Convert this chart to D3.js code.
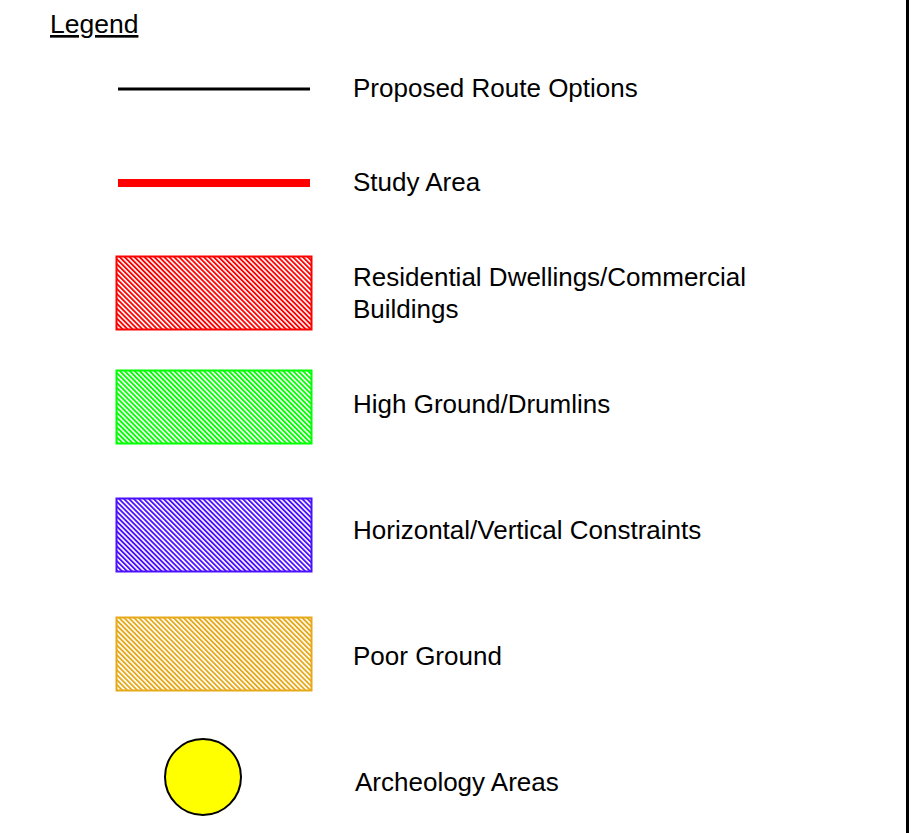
<!DOCTYPE html>
<html>
<head>
<meta charset="utf-8">
<script src="https://cdn.jsdelivr.net/npm/d3@7"></script>
<style>
  body { margin: 0; background: #fff; }
  text { font-family: "Liberation Sans", Arial, sans-serif; fill: #000; }
</style>
</head>
<body>
<div id="chart"></div>
<script>
// Data
const labels = [
  "Proposed Route Options",
  "Study Area",
  "Residential Dwellings/Commercial Buildings",
  "High Ground/Drumlins",
  "Horizontal/Vertical Constraints",
  "Poor Ground",
  "Archeology Areas"
]
const symbols = ["line", "thickLine", "hatch", "hatch", "hatch", "hatch", "circle"]
const colours = ["#000000", "#ff0000", "#ff0000", "#00ff00", "#4a10ff", "#e6a91a", "#ffff00"]
const textLines = [
  ["Proposed Route Options"],
  ["Study Area"],
  ["Residential Dwellings/Commercial", "Buildings"],
  ["High Ground/Drumlins"],
  ["Horizontal/Vertical Constraints"],
  ["Poor Ground"],
  ["Archeology Areas"]
]

// Dimensions
const dimensions = { width: 922, height: 833 }

const svg = d3.select('#chart')
  .append("svg")
  .attr("width", dimensions.width)
  .attr("height", dimensions.height)

// Scales
const yScale = d3.scaleOrdinal()
  .domain(labels)
  .range([89, 183, 293, 407, 535, 654, 777])

// text baselines (first line)
const textScale = d3.scaleOrdinal()
  .domain(labels)
  .range([97, 191, 286, 413, 539, 665, 791])

const colourScale = d3.scaleOrdinal()
  .domain(labels)
  .range(colours)

// hatch patterns
const defs = svg.append("defs")
labels.forEach((l, i) => {
  if (symbols[i] !== "hatch") return
  const p = defs.append("pattern")
    .attr("id", `hatch${i}`)
    .attr("patternUnits", "userSpaceOnUse")
    .attr("width", 3.5)
    .attr("height", 3.5)
    .attr("patternTransform", "rotate(-45)")
  p.append("rect")
    .attr("width", 3.5).attr("height", 3.5).attr("fill", "#fff")
  p.append("line")
    .attr("x1", 0.9).attr("y1", 0).attr("x2", 0.9).attr("y2", 3.5)
    .attr("stroke", colours[i])
    .attr("stroke-width", 1.9)
})

// Title
svg.append("text")
  .attr("x", 50)
  .attr("y", 33)
  .style("font-size", "26.5px")
  .style("text-decoration", "underline")
  .text("Legend")

// Right border
svg.append("line")
  .attr("x1", 907.5).attr("x2", 907.5)
  .attr("y1", 0).attr("y2", dimensions.height)
  .attr("stroke", "#000")
  .attr("stroke-width", 3)

const rows = svg.selectAll("g.row")
  .data(labels)
  .join("g")
  .attr("class", "row")

rows.each(function(d, i) {
  const g = d3.select(this)
  const type = symbols[i]
  const cy = yScale(d)
  if (type === "line" || type === "thickLine") {
    g.append("line")
      .attr("x1", 118).attr("x2", 310)
      .attr("y1", cy).attr("y2", cy)
      .attr("stroke", colourScale(d))
      .attr("stroke-width", type === "line" ? 3 : 8)
  } else if (type === "hatch") {
    g.append("rect")
      .attr("x", 116.5).attr("y", cy - 36.5)
      .attr("width", 195).attr("height", 73)
      .attr("fill", `url(#hatch${i})`)
      .attr("stroke", colourScale(d))
      .attr("stroke-width", 2)
  } else {
    g.append("circle")
      .attr("cx", 203).attr("cy", cy)
      .attr("r", 38)
      .attr("fill", colourScale(d))
      .attr("stroke", "#000")
      .attr("stroke-width", 2)
  }

  const tx = type === "circle" ? 355 : 353
  const t = g.append("text")
    .attr("x", tx)
    .attr("y", textScale(d))
    .style("font-size", "26px")
  textLines[i].forEach((s, k) => {
    t.append("tspan")
      .attr("x", tx)
      .attr("dy", k === 0 ? 0 : 31.5)
      .text(s)
  })
})
</script>
</body>
</html>
